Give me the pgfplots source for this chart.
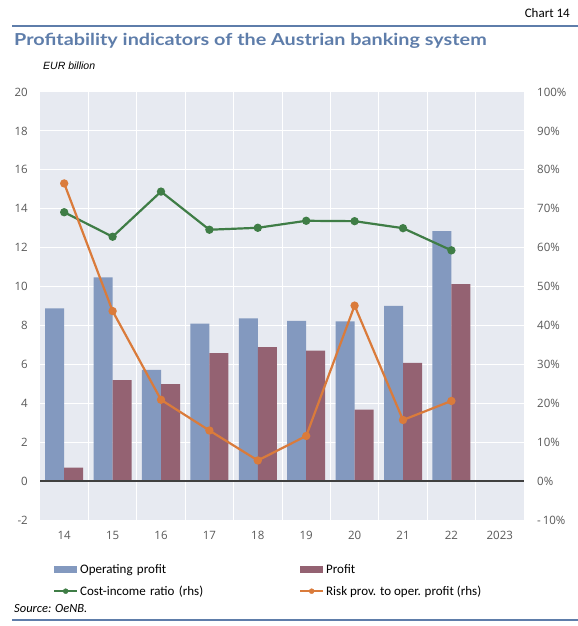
\documentclass[border=0pt]{standalone}
\usepackage{fontspec}
\setmainfont{Carlito}
\newfontfamily\tickfont{Open Sans}
\newfontfamily\titlefont[FakeStretch=1.2]{Lato}
\newfontfamily\arialfont{Liberation Sans}
\usepackage{pgfplots}
\pgfplotsset{compat=1.18}
\definecolor{bgc}{HTML}{E7EAF1}
\definecolor{opc}{HTML}{8399BF}
\definecolor{prc}{HTML}{946272}
\definecolor{grc}{HTML}{3F7D46}
\definecolor{orc}{HTML}{DA7B3B}
\definecolor{titc}{HTML}{5E7DAA}
\definecolor{tickc}{HTML}{595959}
\begin{document}
\begin{tikzpicture}
\useasboundingbox (0,0) rectangle (578bp,626bp);
% header
\node[anchor=east, inner sep=0pt, font=\fontsize{13bp}{15bp}\selectfont] at (570bp,613bp) {Chart 14};
\draw[titc, line width=1.5bp] (12bp,600bp) -- (578bp,600bp);
\node[anchor=west, inner sep=0pt, text=titc, font=\titlefont\fontsize{16.5bp}{19bp}\selectfont\bfseries] at (14bp,585bp) {Profitability indicators of the Austrian banking system};
\node[anchor=west, inner sep=0pt, font=\arialfont\fontsize{10.5bp}{12bp}\selectfont\itshape] at (43bp,560bp) {EUR billion};
\node[anchor=west, inner sep=0pt, font=\fontsize{12.5bp}{14bp}\selectfont\itshape] at (14bp,18bp) {Source: OeNB.};
\draw[titc, line width=1.2bp] (12bp,6bp) -- (578bp,6bp);

\begin{axis}[
  at={(40bp,106bp)}, anchor=south west,
  scale only axis, width=484bp, height=428bp,
  xmin=-0.5, xmax=9.5, ymin=-2, ymax=20,
  axis background/.style={fill=bgc},
  axis line style={draw=none},
  xtick={0,...,9}, xticklabels={14,15,16,17,18,19,20,21,22,2023},
  minor xtick={0.5,1.5,...,8.5},
  xminorgrids, ymajorgrids,
  grid style={white, line width=1bp},
  minor grid style={white, line width=1bp},
  ytick={-2,0,...,20},
  yticklabels={-2,0,2,4,6,8,10,12,14,16,18,20},
  /pgf/number format/assume math mode=true,
  major tick length=0pt, minor tick length=0pt,
  tick style={draw=none},
  ticklabel style={font=\tickfont\fontsize{11.5bp}{13bp}\selectfont, text=tickc},
  yticklabel style={anchor=east, inner sep=0pt, xshift=-12bp},
  xticklabel style={anchor=north, inner sep=0pt, yshift=-11bp},
  ybar=0pt, bar width=19bp,
  legend style={draw=none, fill=none, at={(10bp,-42bp)}, anchor=north west,
    font=\fontsize{13bp}{15bp}\selectfont, row sep=11bp,
    /tikz/every odd column/.append style={column sep=2bp},
    /tikz/column 2/.style={text width=219bp},
    nodes={inner sep=0pt}},
  legend cell align=left,
  legend columns=2,
]
\addplot[fill=opc, draw=none, area legend,
  legend image code/.code={\fill[opc] (0bp,-3.5bp) rectangle (23bp,3.5bp);}]
  coordinates {(0,8.88) (1,10.47) (2,5.72) (3,8.09) (4,8.36) (5,8.24) (6,8.21) (7,9.01) (8,12.85)};
\addlegendentry{Operating profit}
\addplot[fill=prc, draw=none, area legend,
  legend image code/.code={\fill[prc] (0bp,-3.5bp) rectangle (23bp,3.5bp);}]
  coordinates {(0,0.69) (1,5.19) (2,4.99) (3,6.58) (4,6.89) (5,6.70) (6,3.67) (7,6.08) (8,10.13)};
\addlegendentry{Profit}
\addlegendimage{legend image code/.code={\draw[grc, line width=2bp] (0bp,0bp) -- (23bp,0bp); \fill[grc] (11.5bp,0bp) circle (2.5bp);}}
\addlegendentry{Cost-income ratio (rhs)}
\addlegendimage{legend image code/.code={\draw[orc, line width=2bp] (0bp,0bp) -- (23bp,0bp); \fill[orc] (11.5bp,0bp) circle (2.5bp);}}
\addlegendentry{Risk prov. to oper. profit (rhs)}
\draw[black!75, line width=1.5bp] (axis cs:-0.5,0) -- (axis cs:9.5,0);
\end{axis}

\begin{axis}[
  at={(40bp,106bp)}, anchor=south west,
  scale only axis, width=484bp, height=428bp,
  xmin=-0.5, xmax=9.5, ymin=-10, ymax=100,
  axis x line=none,
  axis y line*=right,
  axis line style={draw=none},
  ytick={-10,0,...,100},
  yticklabels={-\,10\%,0\%,10\%,20\%,30\%,40\%,50\%,60\%,70\%,80\%,90\%,100\%},
  /pgf/number format/assume math mode=true,
  major tick length=0pt, tick style={draw=none},
  ticklabel style={font=\tickfont\fontsize{11.5bp}{13bp}\selectfont, text=tickc},
  yticklabel style={anchor=west, inner sep=0pt, xshift=13bp},
]
\addplot[grc, line width=2.2bp, mark=*, mark size=3bp, mark options={solid, fill=grc, draw=grc}]
  coordinates {(0,69.1) (1,62.8) (2,74.4) (3,64.6) (4,65.1) (5,66.9) (6,66.8) (7,65.0) (8,59.3)};
\addplot[orc, line width=2.2bp, mark=*, mark size=3bp, mark options={solid, fill=orc, draw=orc}]
  coordinates {(0,76.5) (1,43.7) (2,20.9) (3,13.0) (4,5.3) (5,11.6) (6,45.1) (7,15.7) (8,20.6)};
\end{axis}
\end{tikzpicture}
\end{document}
